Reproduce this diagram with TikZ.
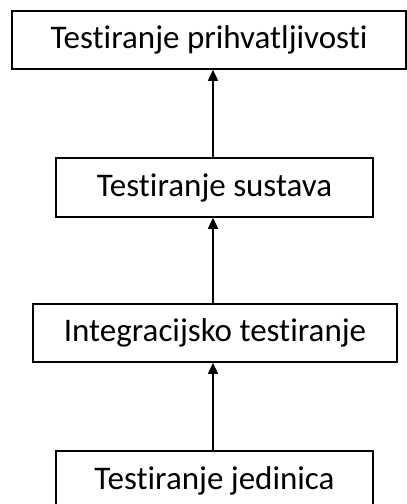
\documentclass[tikz,border=0pt]{standalone}
\usepackage{fontspec}
\setmainfont[Ligatures=NoCommon]{Carlito}
\usetikzlibrary{arrows.meta}
\begin{document}
\begin{tikzpicture}[x=1pt,y=-1pt,
  stagebox/.style={draw=black,line width=1.6pt,fill=white,inner sep=0pt,font=\fontsize{33}{38}\selectfont},
  arr/.style={line width=1.6pt,-{Triangle[length=11pt,width=10pt]}}]
\useasboundingbox (0,0) rectangle (407,504);
\node[stagebox,minimum width=394pt,minimum height=58pt] (a) at (209,40) {Testiranje prihvatljivosti};
\node[stagebox,minimum width=317pt,minimum height=59pt] (s) at (214.5,187.5) {Testiranje sustava};
\node[stagebox,minimum width=364pt,minimum height=58pt] (i) at (215,333) {Integracijsko testiranje};
\node[stagebox,minimum width=317pt,minimum height=59pt] (j) at (214.5,480.5) {Testiranje jedinica};
\draw[arr] (j.north -| 213,0) -- (i.south -| 213,0);
\draw[arr] (i.north -| 213,0) -- (s.south -| 213,0);
\draw[arr] (s.north -| 213,0) -- (a.south -| 213,0);
\end{tikzpicture}
\end{document}
